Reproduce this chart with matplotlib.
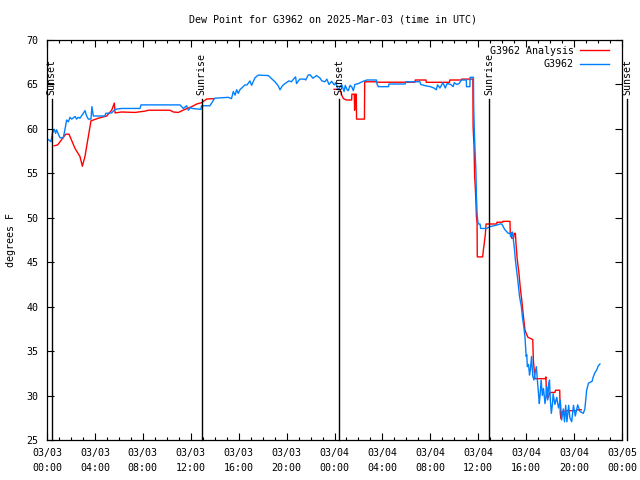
import numpy as np
import matplotlib
matplotlib.use("Agg")
import matplotlib.pyplot as plt

nan = np.nan
# Hours since 2025-03-03 00:00 UTC
red_hours = [0.61, 0.89, 1.56, 1.84, 2.34, 2.75, 2.95, 3.17, 3.67, 4.28, 4.98, 5.4, 5.62, 5.68,
             6.23, 7.35, 8.18, 8.46, 10.27, 10.55, 10.96, 11.52, 12.08, 12.5, 12.91, 13.33, 13.9, 14.0,
             23.96, 24.46, 24.6, 24.75, 25.0, 25.43, 25.45, 25.65, 25.68, 25.72, 25.82, 25.84, 26.5,
             26.52, 27.5, 27.52, 30.72, 30.74, 31.64, 31.66, 33.6, 33.62, 34.6, 34.62, 35.55,
             35.57, 35.65, 35.7, 35.75, 35.8, 35.85, 35.9, 35.92, 36.37, 36.42, 36.5, 36.6, 36.65,
             37.54, 37.56, 38.04, 38.06, 38.65, 38.67, 38.8, 38.95, 39.0, 39.1, 39.15, 39.26, 39.4,
             39.5, 39.66, 39.77, 39.9, 40.0, 40.15, 40.4, 40.55, 40.6, 40.73, 41.6, 41.65, 41.7,
             41.8, 42.0, 42.4, 42.45, 42.8, 42.85, 42.9, 43.0, 43.5, 44.2, 44.25, 44.6]
red_dew = [58.1, 58.2, 59.4, 59.4, 57.8, 56.9, 55.8, 56.9, 60.9, 61.2, 61.45, 62.1, 62.9, 61.8,
           61.9, 61.85, 62.0, 62.1, 62.1, 61.9, 61.85, 62.2, 62.5, 62.8, 62.95, 63.36, 63.4, nan,
           64.45, 64.45, 63.8, 63.4, 63.25, 63.25, 63.9, 63.9, 62.1, 63.9, 63.9, 61.1, 61.1,
           65.3, 65.3, 65.25, 65.25, 65.5, 65.5, 65.24, 65.24, 65.5, 65.5, 65.6, 65.6,
           60.25, 58.0, 54.6, 53.5, 52.0, 50.1, 49.5, 45.6, 45.6, 46.3, 47.1, 48.25, 49.3,
           49.3, 49.5, 49.5, 49.6, 49.6, 48.25, 47.7, 47.7, 48.25, 48.25, 47.1, 45.25, 43.75,
           42.25, 40.4, 38.9, 37.4, 37.0, 36.55, 36.4, 36.3, 34.0, 31.9, 31.9, 32.1, 29.9,
           29.7, 30.35, 30.35, 30.6, 30.6, 28.0, 27.4, 28.2, 28.3, 28.3, 28.4, 28.4]

blue_hours = [0.11, 0.33, 0.45, 0.61, 0.72, 0.8, 0.95, 1.09, 1.36, 1.5, 1.64, 1.78, 1.92, 2.06,
              2.34, 2.47, 2.6, 2.75, 3.03, 3.17, 3.31, 3.45, 3.67, 3.75, 3.87, 4.84, 4.9, 5.4,
              5.68, 6.23, 7.76, 7.85, 11.1, 11.38, 11.66, 11.8, 11.97, 12.1, 12.85, 12.9, 13.6,
              14.0, 15.13, 15.4, 15.55, 15.7, 15.83, 15.97, 16.1, 16.53, 16.7, 16.94, 17.08, 17.36,
              17.64, 18.47, 19.03, 19.3, 19.45, 19.65, 19.87, 20.2, 20.4, 20.64, 20.75, 20.83,
              21.1, 21.5, 21.6, 21.8, 21.95, 22.2, 22.5, 22.8, 22.94, 23.2, 23.36, 23.54, 23.76,
              23.98, 24.1, 24.3, 24.6, 24.8, 24.9, 25.05, 25.15, 25.3, 25.45, 25.57, 25.7, 26.0,
              26.3, 26.7, 27.5, 27.55, 27.66, 28.5, 28.55, 29.9, 29.95, 31.0, 31.1, 31.2, 31.6,
              32.0, 32.3, 32.5, 32.6, 32.8, 33.05, 33.25, 33.4, 33.7, 33.9, 34.0, 34.2, 34.4, 34.6,
              35.0, 35.02, 35.3, 35.32, 35.6, 35.62, 35.67, 35.72, 35.8, 35.85, 35.9, 35.95, 36.0,
              36.15, 36.2, 36.7, 36.98, 37.6, 37.8, 37.95, 38.05, 38.2, 38.5, 38.65, 38.7, 38.75,
              38.8, 38.85, 38.9, 38.97, 39.03, 39.1, 39.2, 39.3, 39.45, 39.6, 39.68, 39.8, 39.9,
              40.0, 40.05, 40.1, 40.2, 40.28, 40.35, 40.45, 40.55, 40.65, 40.75, 40.85, 40.95,
              41.1, 41.15, 41.25, 41.35, 41.45, 41.57, 41.65, 41.72, 41.8, 41.88, 41.95, 42.0,
              42.1, 42.2, 42.25, 42.4, 42.55, 42.7, 42.85, 42.96, 43.1, 43.2, 43.3, 43.4, 43.55,
              43.65, 43.8, 43.95, 44.1, 44.3, 44.5, 44.77, 44.9, 45.05, 45.2, 45.35, 45.5, 45.6,
              45.75, 45.9, 46.0, 46.16]
blue_dew = [58.8, 58.55, 59.5, 59.95, 59.5, 59.9, 59.4, 59.0, 59.0, 59.95, 61.0, 60.8, 61.3, 61.1,
            61.4, 61.1, 61.3, 61.2, 61.75, 62.05, 61.45, 61.1, 61.1, 62.5, 61.45, 61.45, 61.75, 61.8,
            62.2, 62.3, 62.3, 62.7, 62.7, 62.3, 62.6, 62.1, 62.4, 62.3, 62.2, 62.6, 62.6,
            63.45, 63.55, 63.4, 64.2, 63.8, 64.4, 64.0, 64.4, 64.95, 64.95, 65.4, 64.9, 65.75,
            66.05, 66.0, 65.3, 64.85, 64.4, 64.85, 65.1, 65.4, 65.3, 65.7, 65.85, 65.1,
            65.6, 65.6, 65.5, 66.05, 66.1, 65.7, 66.0, 65.7, 65.4, 65.3, 65.6, 65.0, 65.35,
            64.95, 65.2, 64.4, 65.0, 64.2, 64.9, 64.4, 64.3, 64.9, 64.7, 64.3, 65.0, 65.1,
            65.3, 65.5, 65.5, 65.05, 64.75, 64.75, 65.05, 65.05, 65.3, 65.3, 65.4, 65.0, 64.85,
            64.75, 64.6, 64.4, 64.95, 64.6, 65.2, 64.6, 65.1, 65.0, 64.75, 65.2, 65.0, 65.1, 65.5,
            65.5, 64.75, 64.75, 65.8, 65.8, 62.5, 59.9, 58.0, 55.4, 52.4, 50.5, 49.75, 49.3,
            49.3, 48.8, 48.8, 49.0, 49.2, 49.3, 49.3, 49.1, 48.7, 48.25, 48.25, 47.9, 48.3,
            48.0, 48.4, 47.9, 47.1, 46.4, 45.25, 44.1, 43.0, 41.1, 40.0, 38.9, 37.75, 36.6,
            34.4, 34.6, 33.25, 33.5, 32.3, 32.9, 34.4, 32.2, 31.75, 32.6, 33.25, 31.5,
            29.1, 29.9, 31.75, 30.0, 30.8, 29.1, 29.8, 31.0, 29.5, 31.3, 31.75, 29.9,
            28.0, 29.1, 30.2, 29.0, 29.8, 28.6, 29.5, 27.25, 28.5, 27.05, 28.9, 27.05, 28.9,
            27.5, 27.05, 28.9, 27.7, 28.95, 28.2, 28.0, 28.5, 30.6, 31.4, 31.5, 31.6, 32.1,
            32.6, 32.9, 33.3, 33.55]

sun_hours = [0.38, 12.9, 24.4, 36.9, 48.45]
sun_labels = ["Sunset", "Sunrise", "Sunset", "Sunrise", "Sunset"]

xtick_hours = [0, 4, 8, 12, 16, 20, 24, 28, 32, 36, 40, 44, 48]
xtick_labels = ["03/03\n00:00", "03/03\n04:00", "03/03\n08:00", "03/03\n12:00",
                "03/03\n16:00", "03/03\n20:00", "03/04\n00:00", "03/04\n04:00",
                "03/04\n08:00", "03/04\n12:00", "03/04\n16:00", "03/04\n20:00",
                "03/05\n00:00"]

plt.rcParams['font.family'] = ['DejaVu Sans Mono']
fs = 7.2

fig = plt.figure(figsize=(6.4, 4.8), dpi=100)
ax = fig.add_axes([47/640, 40/480, 575/640, 400/480])

ax.plot(red_hours, red_dew, color='#ff0000', lw=1.0, label='G3962 Analysis')
ax.plot(blue_hours, blue_dew, color='#0080ff', lw=1.0, label='G3962')

for h, lab in zip(sun_hours, sun_labels):
    ax.plot([h, h], [25, 63.36], color='black', lw=1.0, clip_on=False)
    ax.text(h, 63.8, lab, rotation=90, ha='center', va='bottom', fontsize=fs,
            clip_on=False)

ax.set_xlim(0, 48)
ax.set_ylim(25, 70)
ax.set_xticks(xtick_hours)
ax.set_xticklabels(xtick_labels, fontsize=fs, linespacing=1.6)
ax.set_xticks(range(0, 49), minor=True)
ax.set_yticks(range(25, 71, 5))
ax.tick_params(axis='both', which='major', direction='in', length=5, width=0.8,
               top=True, right=True, labelsize=fs)
ax.tick_params(axis='both', which='minor', direction='in', length=2.5, width=0.8,
               top=True, right=True)
ax.tick_params(axis='x', which='major', pad=6)
ax.tick_params(axis='y', which='major', pad=6)
for s in ax.spines.values():
    s.set_linewidth(0.9)

ax.set_ylabel('degrees F', fontsize=fs, labelpad=8)
fig.text(333/640, 1 - 19/480, 'Dew Point for G3962 on 2025-Mar-03 (time in UTC)',
         ha='center', va='center', fontsize=fs)

ax.legend(loc='upper right', bbox_to_anchor=(1 - 7/575, 1.0), frameon=False,
          markerfirst=False, fontsize=fs, handlelength=2.9, borderaxespad=0.2,
          labelspacing=0.35, handletextpad=0.6)

fig.savefig('out.png', dpi=100)
